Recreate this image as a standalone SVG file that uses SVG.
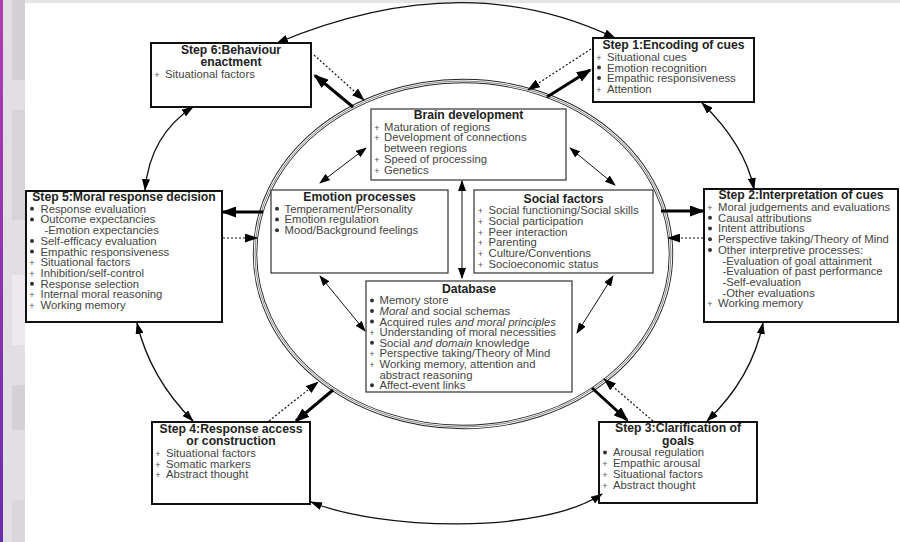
<svg xmlns="http://www.w3.org/2000/svg" width="900" height="542" viewBox="0 0 900 542">
<defs>
<style>
.box{fill:#fff;stroke:#111;stroke-width:2}
.ibox{fill:#fff;stroke:#333;stroke-width:1.2}
.t{font-family:"Liberation Sans",Arial,sans-serif;font-weight:bold;font-size:12.2px;fill:#222;text-anchor:middle}
.i{font-family:"Liberation Sans",Arial,sans-serif;font-size:11.3px;fill:#444}
.p{font-family:"Liberation Sans",Arial,sans-serif;font-size:9px;fill:#555;text-anchor:middle}
.d{fill:#333}
.it{font-style:italic}
.arc{fill:none;stroke:#111;stroke-width:1.3;marker-start:url(#ha);marker-end:url(#ha)}
.thin{fill:none;stroke:#111;stroke-width:1;marker-start:url(#ht);marker-end:url(#ht)}
.thick{fill:none;stroke:#000;stroke-width:3;marker-end:url(#hk)}
.dot{fill:none;stroke:#111;stroke-width:1.2;stroke-dasharray:2 2;marker-end:url(#hd)}
</style>
<marker id="ha" markerUnits="userSpaceOnUse" markerWidth="12" markerHeight="8" refX="11" refY="4" orient="auto-start-reverse"><path d="M0,0 L12,4 L0,8 z" fill="#000"/></marker>
<marker id="ht" markerUnits="userSpaceOnUse" markerWidth="11" markerHeight="8" refX="10" refY="4" orient="auto-start-reverse"><path d="M0,0 L11,4 L0,8 z" fill="#000"/></marker>
<marker id="hk" markerUnits="userSpaceOnUse" markerWidth="15" markerHeight="11" refX="13" refY="5.5" orient="auto"><path d="M0,0 L15,5.5 L0,11 z" fill="#000"/></marker>
<marker id="hd" markerUnits="userSpaceOnUse" markerWidth="13" markerHeight="9" refX="12" refY="4.5" orient="auto"><path d="M0,0 L13,4.5 L0,9 z" fill="#000"/></marker>
<linearGradient id="pg" x1="0" y1="0" x2="0" y2="1"><stop offset="0" stop-color="#b23cb0"/><stop offset="1" stop-color="#6a2cae"/></linearGradient>
</defs>
<rect x="0" y="0" width="900" height="542" fill="#fff"/>
<g id="chrome">
<rect x="0" y="0" width="900" height="3" fill="#e6e4e8"/>
<rect x="0" y="0" width="3" height="542" fill="url(#pg)"/>
<rect x="3" y="0" width="22" height="542" fill="#e2dfe4"/>
<rect x="12" y="0" width="13" height="80" fill="#d2cfd5"/>
<rect x="12" y="110" width="13" height="110" fill="#d6d3d9"/>
<rect x="12" y="275" width="13" height="70" fill="#eceaee"/>
<rect x="12" y="385" width="13" height="45" fill="#d4d1d7"/>
<rect x="12" y="500" width="13" height="42" fill="#dad7dc"/>
</g>
<g id="ring">
<ellipse cx="463" cy="254" rx="208" ry="173" fill="none" stroke="#222" stroke-width="4.4"/>
<ellipse cx="463" cy="254" rx="208" ry="173" fill="none" stroke="#fff" stroke-width="2.6"/>
<ellipse cx="463" cy="254" rx="208" ry="173" fill="none" stroke="#555" stroke-width="0.7"/>
</g>
<g id="step6">
<rect class="box" x="151" y="43" width="160" height="64"/>
<text class="t" x="231" y="54">Step 6:Behaviour<tspan x="231" dy="12.4">enactment</tspan></text>
<text class="p" x="157" y="78.3">+</text><text class="i" x="165" y="78.3">Situational factors</text>
</g>
<g id="step1">
<rect class="box" x="593" y="38" width="161" height="64"/>
<text class="t" x="673.5" y="49.3">Step 1:Encoding of cues</text>
<text class="p" x="599" y="61">+</text><text class="i" x="607" y="61">Situational cues</text>
<circle class="d" cx="599" cy="67.6" r="2"/><text class="i" x="607" y="71.5">Emotion recognition</text>
<circle class="d" cx="599" cy="78.1" r="2"/><text class="i" x="607" y="82">Empathic responsiveness</text>
<text class="p" x="599" y="92.5">+</text><text class="i" x="607" y="92.5">Attention</text>
</g>
<g id="step2">
<rect class="box" x="704" y="189" width="194" height="133"/>
<text class="t" x="801" y="199">Step 2:Interpretation of cues</text>
<text class="p" x="710" y="211">+</text><text class="i" x="718" y="211">Moral judgements and evaluations</text>
<circle class="d" cx="710" cy="217.8" r="2"/><text class="i" x="718" y="221.7">Causal attributions</text>
<circle class="d" cx="710" cy="228.5" r="2"/><text class="i" x="718" y="232.4">Intent attributions</text>
<circle class="d" cx="710" cy="239.2" r="2"/><text class="i" x="718" y="243.1">Perspective taking/Theory of Mind</text>
<circle class="d" cx="710" cy="249.9" r="2"/><text class="i" x="718" y="253.8">Other interpretive processes:</text>
<text class="i" x="722.5" y="264.5">-Evaluation of goal attainment</text>
<text class="i" x="722.5" y="275.2">-Evaluation of past performance</text>
<text class="i" x="722.5" y="285.9">-Self-evaluation</text>
<text class="i" x="722.5" y="296.6">-Other evaluations</text>
<text class="p" x="710" y="307.3">+</text><text class="i" x="718" y="307.3">Working memory</text>
</g>
<g id="step3">
<rect class="box" x="599" y="422" width="158" height="81"/>
<text class="t" x="678" y="432">Step 3:Clarification of<tspan x="678" dy="12.5">goals</tspan></text>
<circle class="d" cx="605" cy="452.5" r="2"/><text class="i" x="613" y="456.4">Arousal regulation</text>
<text class="p" x="605" y="467.1">+</text><text class="i" x="613" y="467.1">Empathic arousal</text>
<text class="p" x="605" y="477.8">+</text><text class="i" x="613" y="477.8">Situational factors</text>
<text class="p" x="605" y="488.5">+</text><text class="i" x="613" y="488.5">Abstract thought</text>
</g>
<g id="step4">
<rect class="box" x="152" y="422" width="158" height="82"/>
<text class="t" x="231" y="432.6">Step 4:Response access<tspan x="231" dy="12.5">or construction</tspan></text>
<text class="p" x="158" y="457">+</text><text class="i" x="166" y="457">Situational factors</text>
<text class="p" x="158" y="467.7">+</text><text class="i" x="166" y="467.7">Somatic markers</text>
<text class="p" x="158" y="478.4">+</text><text class="i" x="166" y="478.4">Abstract thought</text>
</g>
<g id="step5">
<rect class="box" x="26" y="191" width="196" height="131"/>
<text class="t" x="124" y="200.7">Step 5:Moral response decision</text>
<circle class="d" cx="32" cy="208.8" r="2"/><text class="i" x="40.5" y="212.7">Response evaluation</text>
<circle class="d" cx="32" cy="219.5" r="2"/><text class="i" x="40.5" y="223.4">Outcome expectancies</text>
<text class="i" x="44.5" y="234.1">-Emotion expectancies</text>
<circle class="d" cx="32" cy="240.9" r="2"/><text class="i" x="40.5" y="244.8">Self-efficacy evaluation</text>
<circle class="d" cx="32" cy="251.6" r="2"/><text class="i" x="40.5" y="255.5">Empathic responsiveness</text>
<text class="p" x="32" y="266.2">+</text><text class="i" x="40.5" y="266.2">Situational factors</text>
<text class="p" x="32" y="276.9">+</text><text class="i" x="40.5" y="276.9">Inhibition/self-control</text>
<circle class="d" cx="32" cy="283.7" r="2"/><text class="i" x="40.5" y="287.6">Response selection</text>
<text class="p" x="32" y="298.3">+</text><text class="i" x="40.5" y="298.3">Internal moral reasoning</text>
<text class="p" x="32" y="309">+</text><text class="i" x="40.5" y="309">Working memory</text>
</g>
<g id="brain">
<rect class="ibox" x="371" y="109" width="195" height="71"/>
<text class="t" x="468.5" y="119">Brain development</text>
<text class="p" x="377" y="130.7">+</text><text class="i" x="384" y="130.7">Maturation of regions</text>
<text class="p" x="377" y="141.4">+</text><text class="i" x="384" y="141.4">Development of connections<tspan x="384" dy="10.7">between regions</tspan></text>
<text class="p" x="377" y="162.8">+</text><text class="i" x="384" y="162.8">Speed of processing</text>
<text class="p" x="377" y="173.5">+</text><text class="i" x="384" y="173.5">Genetics</text>
</g>
<g id="emotion">
<rect class="ibox" x="271" y="190" width="177" height="83"/>
<text class="t" x="359.5" y="201">Emotion processes</text>
<circle class="d" cx="277" cy="208.8" r="2"/><text class="i" x="284.5" y="212.7">Temperament/Personality</text>
<circle class="d" cx="277" cy="219.5" r="2"/><text class="i" x="284.5" y="223.4">Emotion regulation</text>
<circle class="d" cx="277" cy="230.2" r="2"/><text class="i" x="284.5" y="234.1">Mood/Background feelings</text>
</g>
<g id="social">
<rect class="ibox" x="474" y="190" width="179" height="83"/>
<text class="t" x="563.5" y="202.7">Social factors</text>
<text class="p" x="480.5" y="214.3">+</text><text class="i" x="488.5" y="214.3">Social functioning/Social skills</text>
<text class="p" x="480.5" y="225">+</text><text class="i" x="488.5" y="225">Social participation</text>
<text class="p" x="480.5" y="235.7">+</text><text class="i" x="488.5" y="235.7">Peer interaction</text>
<text class="p" x="480.5" y="246.4">+</text><text class="i" x="488.5" y="246.4">Parenting</text>
<text class="p" x="480.5" y="257.1">+</text><text class="i" x="488.5" y="257.1">Culture/Conventions</text>
<text class="p" x="480.5" y="267.8">+</text><text class="i" x="488.5" y="267.8">Socioeconomic status</text>
</g>
<g id="database">
<rect class="ibox" x="366" y="281" width="206" height="111"/>
<text class="t" x="469" y="292.7">Database</text>
<circle class="d" cx="372" cy="300.4" r="2"/><text class="i" x="379.5" y="304.3">Memory store</text>
<circle class="d" cx="372" cy="311" r="2"/><text class="i" x="379.5" y="314.9"><tspan class="it">Moral</tspan> and social schemas</text>
<circle class="d" cx="372" cy="321.6" r="2"/><text class="i" x="379.5" y="325.5">Acquired rules <tspan class="it">and moral principles</tspan></text>
<text class="p" x="372" y="336.1">+</text><text class="i" x="379.5" y="336.1">Understanding of moral necessities</text>
<circle class="d" cx="372" cy="342.8" r="2"/><text class="i" x="379.5" y="346.7">Social <tspan class="it">and domain</tspan> knowledge</text>
<text class="p" x="372" y="357.3">+</text><text class="i" x="379.5" y="357.3">Perspective taking/Theory of Mind</text>
<text class="p" x="372" y="367.9">+</text><text class="i" x="379.5" y="367.9">Working memory, attention and<tspan x="379.5" dy="10.6">abstract reasoning</tspan></text>
<circle class="d" cx="372" cy="385.2" r="2"/><text class="i" x="379.5" y="389.1">Affect-event links</text>
</g>
<g id="connectors">
<path class="arc" d="M277,43 Q464,-35 615,38"/>
<path class="arc" d="M702,103 Q745,145 754,189"/>
<path class="arc" d="M763,323 Q752,378 707,421"/>
<path class="arc" d="M602,494 C540,535 380,530 311,502"/>
<path class="arc" d="M193,421 Q150,378 137,323"/>
<path class="arc" d="M145,190 Q150,135 193,107"/>
<path class="thin" d="M366,148 L320,183"/>
<path class="thin" d="M570,148 L615,185"/>
<path class="thin" d="M462,181 L462,278"/>
<path class="thin" d="M320,276 L365,331"/>
<path class="thin" d="M613,276 L577,333"/>
<path class="thick" d="M353,107 L315,75.5"/>
<path class="thick" d="M547,97 L590,70"/>
<path class="thick" d="M661,211 L703,211"/>
<path class="thick" d="M263,212 L223,212"/>
<path class="thick" d="M333,390 L296,421"/>
<path class="thick" d="M592,388 L627,420"/>
<path class="dot" d="M314,55 L364,100"/>
<path class="dot" d="M591,49 L528,90"/>
<path class="dot" d="M703,238 L668,238"/>
<path class="dot" d="M223,238 L257,238"/>
<path class="dot" d="M269,421 L318,382"/>
<path class="dot" d="M653,421 L604,379"/>
</g>
</svg>
